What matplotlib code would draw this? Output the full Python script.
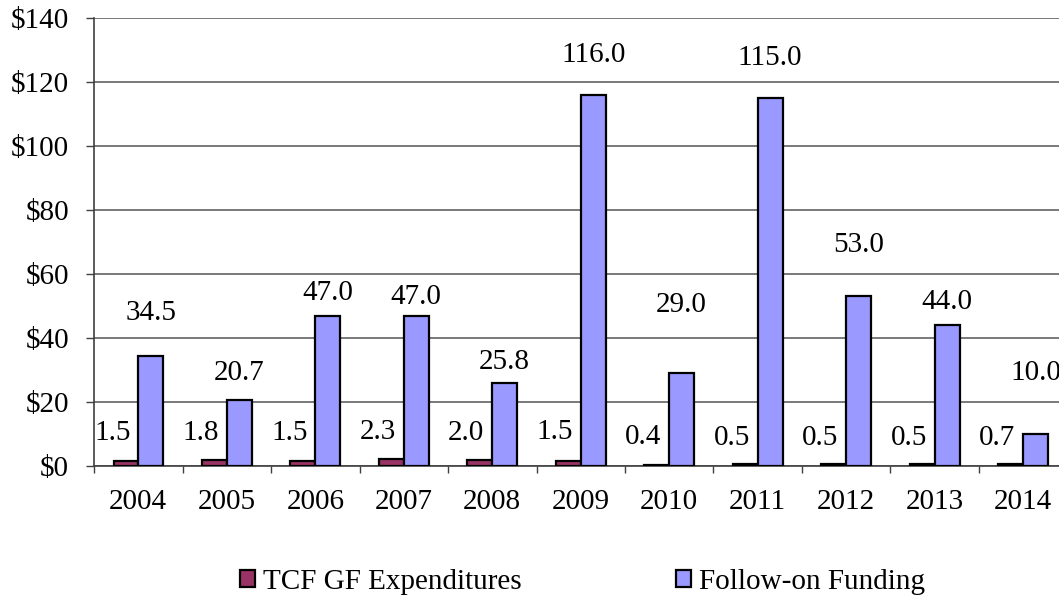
import matplotlib
matplotlib.use("Agg")
import matplotlib.pyplot as plt
import numpy as np

plt.rcParams['font.family'] = ['Liberation Serif', 'DejaVu Serif']

years = ['2004', '2005', '2006', '2007', '2008', '2009', '2010', '2011', '2012', '2013', '2014']
tcf_gf = [1.5, 1.8, 1.5, 2.3, 2.0, 1.5, 0.4, 0.5, 0.5, 0.5, 0.7]
follow_on = [34.5, 20.7, 47.0, 47.0, 25.8, 116.0, 29.0, 115.0, 53.0, 44.0, 10.0]

# where excel dropped the data labels (data units)
tcf_lbl_y = [10.3, 10.3, 10.3, 10.5, 10.2, 10.5, 9.0, 8.8, 8.8, 8.8, 8.8]
fund_lbl_y = [47.8, 29.1, 54.1, 52.8, 32.5, 128.4, 50.3, 127.5, 69.1, 51.3, 29.1]

maroon = '#993366'
periwinkle = '#9999ff'
fs = 21

fig = plt.figure(figsize=(10.59, 5.98), dpi=100)
ax = fig.add_axes([0.0888, 0.2207, 0.9192, 0.7492])

x = np.arange(len(years))
w = 0.28
ax.bar(x - w/2, tcf_gf, w, color=maroon, edgecolor='black', linewidth=1.6,
       label='TCF GF Expenditures', zorder=3)
ax.bar(x + w/2, follow_on, w, color=periwinkle, edgecolor='black', linewidth=1.6,
       label='Follow-on Funding', zorder=3)

for i in range(len(years)):
    ax.text(x[i] - 0.294, tcf_lbl_y[i], '%.1f' % tcf_gf[i], ha='center', va='center',
            fontsize=fs, zorder=4)
    ax.text(x[i] + w/2, fund_lbl_y[i], '%.1f' % follow_on[i], ha='center', va='center',
            fontsize=fs, zorder=4)

ax.set_xlim(-0.5, len(years) - 0.5)
ax.set_ylim(0, 140)
ax.set_yticks(range(0, 141, 20))
ax.set_yticklabels(['$%d' % v for v in range(0, 141, 20)], fontsize=fs)
ax.set_xticks(x)
ax.set_xticklabels(years, fontsize=fs)
ax.set_xticks(np.arange(-0.5, len(years), 1), minor=True)
ax.tick_params(axis='x', which='major', length=0, pad=16.5)
ax.tick_params(axis='x', which='minor', length=5, width=1, color='#404040')
ax.tick_params(axis='y', length=6, width=1, color='#404040', pad=12)

ax.yaxis.grid(True, color='#555555', linewidth=1.1, zorder=0)
ax.set_axisbelow(True)
for s in ['top', 'right']:
    ax.spines[s].set_visible(False)
ax.spines['left'].set_color('#404040')
ax.spines['bottom'].set_color('#404040')
ax.spines['left'].set_linewidth(1.2)
ax.spines['bottom'].set_linewidth(1.2)

fig.legend(loc='center', bbox_to_anchor=(0.550, 0.027), ncol=2, frameon=False,
           fontsize=21, handlelength=0.52, handleheight=0.52, handletextpad=0.27,
           columnspacing=5.3)

fig.savefig('out.png', dpi=100)
